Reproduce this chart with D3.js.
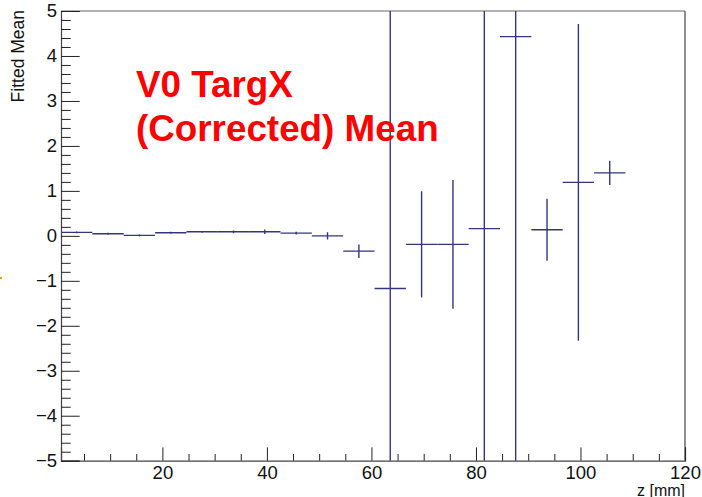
<!DOCTYPE html>
<html><head><meta charset="utf-8">
<script src="https://cdn.jsdelivr.net/npm/d3@7/dist/d3.min.js"></script>
<style>
body{margin:0;background:#fff;}
svg{display:block;font-family:"Liberation Sans",Arial,sans-serif;}
</style></head>
<body>
<svg id="c" width="702" height="497"></svg>
<script>
// Data
const binCenters = [3.6, 9.6, 15.6, 21.6, 27.6, 33.6, 39.6, 45.6, 51.6, 57.6, 63.6, 69.6, 75.6, 81.6, 87.6, 93.6, 99.6, 105.6];
const binHalfWidth = 3;
const meanValues = [0.078, 0.047, 0.01, 0.07, 0.09, 0.09, 0.09, 0.06, 0.0, -0.34, -1.17, -0.19, -0.19, 0.16, 4.43, 0.136, 1.19, 1.40];
const meanErrors = [0.02, 0.02, 0.02, 0.02, 0.02, 0.03, 0.05, 0.03, 0.08, 0.15, 9.0, 1.18, 1.43, 7.0, 12.0, 0.69, 3.52, 0.27];
const xMajorTicks = [20, 40, 60, 80, 100, 120];
const xMinorTicks = [5, 10, 15, 25, 30, 35, 45, 50, 55, 65, 70, 75, 85, 90, 95, 105, 110, 115];
const yMajorTicks = [-5, -4, -3, -2, -1, 0, 1, 2, 3, 4, 5];
const titleLines = ["V0 TargX", "(Corrected) Mean"];
const xTitle = "z [mm]";
const yTitle = "Fitted Mean";

const svg = d3.select("#c");
const L = 61, R = 685, T = 11, B = 460.7;
const x = d3.scaleLinear().domain([0.6, 120]).range([L, R]);
const y = d3.scaleLinear().domain([-5, 5]).range([B, T]);

const yMinorTicks = d3.range(-50, 51, 2).map(d => d / 10).filter(d => !yMajorTicks.includes(d));

svg.append("defs").append("clipPath").attr("id", "pc")
  .append("rect").attr("x", L).attr("y", T).attr("width", R - L).attr("height", B - T);

svg.append("line").attr("x1", L).attr("x2", R).attr("y1", T).attr("y2", T).attr("stroke", "#666").attr("stroke-width", 1.2);
svg.append("line").attr("x1", R).attr("x2", R).attr("y1", T).attr("y2", B).attr("stroke", "#444").attr("stroke-width", 1.2);

const gx = svg.append("g").attr("transform", `translate(0,${B})`);
gx.call(d3.axisBottom(x).tickValues(xMajorTicks).tickSize(-13.3).tickPadding(5).tickFormat(d3.format("d")));
gx.append("g").call(d3.axisBottom(x).tickValues(xMinorTicks).tickSize(-6.7).tickFormat(""))
  .select(".domain").remove();
gx.selectAll("text").attr("font-size", 18.5).attr("fill", "#111").style("font-family", "Liberation Sans, Arial, sans-serif");
gx.selectAll("line").attr("stroke", "#222");
gx.selectAll(".domain").attr("stroke", "#444").attr("stroke-width", 1.2);

const gy = svg.append("g").attr("transform", `translate(${L},0)`);
gy.call(d3.axisLeft(y).tickValues(yMajorTicks).tickSize(-18.7).tickPadding(4).tickFormat(d3.format("d")));
gy.append("g").call(d3.axisLeft(y).tickValues(yMinorTicks).tickSize(-9.7).tickFormat(""))
  .select(".domain").remove();
gy.selectAll("text").attr("font-size", 18.5).attr("fill", "#111").style("font-family", "Liberation Sans, Arial, sans-serif");
gy.selectAll("line").attr("stroke", "#222");
gy.selectAll(".domain").attr("stroke", "#444").attr("stroke-width", 1.2);

const gd = svg.append("g").attr("clip-path", "url(#pc)");
const data = binCenters.map((c, i) => ({c, v: meanValues[i], e: meanErrors[i]}));
const col = "#35357f";
gd.selectAll(".h").data(data).enter().append("line")
  .attr("x1", d => x(d.c - binHalfWidth)).attr("x2", d => x(d.c + binHalfWidth))
  .attr("y1", d => y(d.v)).attr("y2", d => y(d.v))
  .attr("stroke", col).attr("stroke-width", 1.4);
gd.selectAll(".v").data(data).enter().append("line")
  .attr("x1", d => x(d.c)).attr("x2", d => x(d.c))
  .attr("y1", d => y(d.v - d.e)).attr("y2", d => y(d.v + d.e))
  .attr("stroke", col).attr("stroke-width", 1.4);

const tt = svg.append("text").attr("x", 136).attr("fill", "#ff0000")
  .attr("font-size", 36.8).attr("font-weight", "bold");
tt.selectAll("tspan").data(titleLines).enter().append("tspan")
  .attr("x", 136).attr("y", (d, i) => 97 + i * 44).text(d => d);

svg.append("text").attr("x", 685).attr("y", 495.5).attr("text-anchor", "end")
  .attr("font-size", 16).attr("fill", "#111").text(xTitle);
svg.append("text").attr("transform", "translate(24,10) rotate(-90)").attr("text-anchor", "end")
  .attr("font-size", 17.5).attr("fill", "#111").text(yTitle);

svg.append("rect").attr("x", 0).attr("y", 277).attr("width", 2).attr("height", 2).attr("fill", "#ff9900");
</script>
</body></html>
